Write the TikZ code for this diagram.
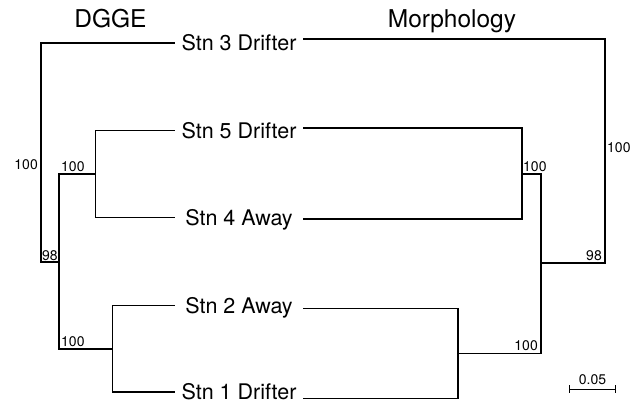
\documentclass[tikz,border=0pt]{standalone}
\usepackage{fontspec}
\setmainfont{TeX Gyre Heros}
\usepackage{tikz}
\usetikzlibrary{calc}

\begin{document}
\begin{tikzpicture}[
	x=1pt, y=-1pt,
	leaf/.style={minimum width=128pt, inner sep=0pt, text height=15.5pt, text depth=0pt,
		font=\fontsize{21.5}{24}\selectfont},
	title/.style={inner sep=0pt, font=\fontsize{24.5}{27}\selectfont},
	support/.style={inner sep=1pt, font=\fontsize{14}{16}\selectfont},
	branch/.style={draw, line width=1.1pt}
	]
	\useasboundingbox (0,0) rectangle (643,403);

	% titles
	\node[title, anchor=base] (tdgge) at (110.5,27.3) {DGGE};
	\node[title, anchor=base] (tmorph) at (452,27.3) {Morphology};

	% leaves
	\node[leaf] (s3) at (239,43) {Stn 3 Drifter};
	\node[leaf] (s5) at (239,130.7) {Stn 5 Drifter};
	\node[leaf] (s4) at (239,217.7) {Stn 4 Away};
	\node[leaf] (s2) at (239,305.5) {Stn 2 Away};
	\node[leaf] (s1) at (239,392) {Stn 1 Drifter};

	% DGGE tree
	\coordinate (d45) at (95.5,174);
	\coordinate (d12) at (112.7,349);
	\coordinate (d1245) at (59,262);
	\coordinate (droot) at (41,152);
	\draw[branch] (s5.west) -| (d45) |- (s4.west);
	\draw[branch] (s2.west) -| (d12) |- (s1.west);
	\draw[branch] (d45) -| (d1245) |- (d12);
	\draw[branch] (d1245) -| (droot) |- (s3.west);

	\node[support, anchor=east] (bdroot) at (39,165) {100};
	\node[support, anchor=south west] (bd45) at (60,173) {100};
	\node[support, anchor=south west] (bd1245) at (41,262) {98};
	\node[support, anchor=south west] (bd12) at (60,348) {100};

	% morphology tree
	\coordinate (m45) at (522,174);
	\coordinate (m12) at (458,353.3);
	\coordinate (m1245) at (541,263);
	\coordinate (mroot) at (605,150);
	\draw[branch] ([yshift=2.7pt]s5.east) -| (m45) |- ([yshift=-1.3pt]s4.east);
	\draw[branch] ([yshift=-3pt]s2.east) -| (m12) |- ([yshift=-6.5pt]s1.east);
	\draw[branch] (m45) -| (m1245) |- (m12);
	\draw[branch] (m1245) -| (mroot) |- ([yshift=4pt]s3.east);

	\node[support, anchor=west] (bmroot) at (606,148) {100};
	\node[support, anchor=south west] (bm45) at (522,173) {100};
	\node[support, anchor=south east] (bm1245) at (603,262) {98};
	\node[support, anchor=south east] (bm12) at (539,352) {100};

	% scale bar
	\coordinate (sbl) at (569,389);
	\coordinate (sbr) at (616,389);
	\draw[line width=0.9pt, |-|] (sbl) -- (sbr);
	\node[support, anchor=south] (sblabel) at ($(sbl)!0.5!(sbr)+(0,-3)$) {0.05};
\end{tikzpicture}
\end{document}
